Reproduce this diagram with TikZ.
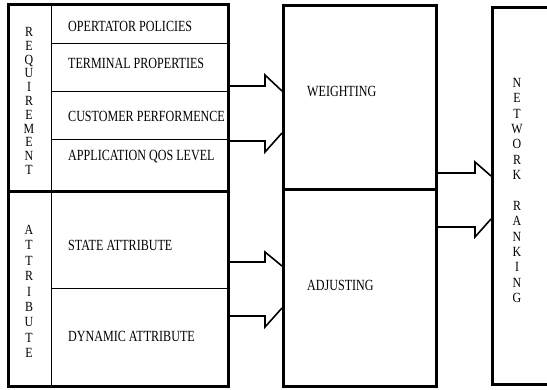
\documentclass[tikz,border=0pt]{standalone}
\usepackage{fontspec}
\setmainfont{Liberation Serif}
\newfontfamily\tnr[FakeStretch=0.78]{Liberation Serif}
\newfontfamily\tnrv[FakeStretch=0.85]{Liberation Serif}
\begin{document}
\begin{tikzpicture}[x=1pt,y=-1pt,
  outerbox/.style={draw, line width=2.8pt, inner sep=0pt, anchor=north west},
  cell/.style={draw, line width=0.8pt, inner sep=0pt, anchor=north west},
  lbl/.style={font=\tnr\fontsize{15.5}{17}\selectfont, anchor=base west, inner sep=0pt},
  vlbl/.style={font=\tnrv\fontsize{14}{#1}\selectfont, align=center, inner sep=0pt},
  conn/.style={line width=1.6pt, line join=miter}]
\useasboundingbox (0,0) rectangle (547,390);
\clip (0,0) rectangle (547,390);
\fill[white] (0,0) rectangle (547,390);
% left column cells
\node[cell, minimum width=44pt, minimum height=187pt] (reqcol) at (7,3) {};
\node[cell, minimum width=44pt, minimum height=195pt] (attcol) at (7,190) {};
\node[cell, minimum width=176pt, minimum height=40pt] (r1) at (51,3) {};
\node[cell, minimum width=176pt, minimum height=48pt] (r2) at (51,43) {};
\node[cell, minimum width=176pt, minimum height=48pt] (r3) at (51,91) {};
\node[cell, minimum width=176pt, minimum height=51pt] (r4) at (51,139) {};
\node[cell, minimum width=176pt, minimum height=98pt] (a1) at (51,190) {};
\node[cell, minimum width=176pt, minimum height=97pt] (a2) at (51,288) {};
% row texts
\node[lbl] (t1) at (68,31.9) {OPERTATOR POLICIES};
\node[lbl] (t2) at (68,68.4) {TERMINAL PROPERTIES};
\node[lbl] (t3) at (68,121.8) {CUSTOMER PERFORMENCE};
\node[lbl] (t4) at (68,160.1) {APPLICATION QOS LEVEL};
\node[lbl] (t5) at (68,250.1) {STATE ATTRIBUTE};
\node[lbl] (t6) at (68,341.8) {DYNAMIC ATTRIBUTE};
\node[lbl] (tw) at (307,96.1) {WEIGHTING};
\node[lbl] (ta) at (307,290.1) {ADJUSTING};
% outer boxes
\node[outerbox, minimum width=220pt, minimum height=187pt] (req) at (7,3) {};
\node[outerbox, minimum width=220pt, minimum height=195pt] (att) at (7,190) {};
\node[outerbox, minimum width=153pt, minimum height=184pt] (wt) at (282,4) {};
\node[outerbox, minimum width=153pt, minimum height=197pt] (adj) at (282,188) {};
\node[outerbox, minimum width=80pt, minimum height=377pt] (net) at (491,6) {};
% vertical texts
\node[vlbl=13.8] (vreq) at (29,101) {R\\E\\Q\\U\\I\\R\\E\\M\\E\\N\\T};
\node[vlbl=15.4] (vatt) at (29,291.5) {A\\T\\T\\R\\I\\B\\U\\T\\E};
\node[vlbl=15.36] (vnet) at (517,190.5) {N\\E\\T\\W\\O\\R\\K\\~\\R\\A\\N\\K\\I\\N\\G};
% connectors
\draw[conn] (req.east |- 0,86) -- (265,86) -- (265,75) -- (wt.west |- 0,91);
\draw[conn] (req.east |- 0,141) -- (265,141) -- (265,152) -- (wt.west |- 0,133);
\draw[conn] (att.east |- 0,262) -- (265,262) -- (265,252) -- (adj.west |- 0,266);
\draw[conn] (att.east |- 0,316) -- (265,316) -- (265,327) -- (adj.west |- 0,308);
\draw[conn] (wt.east |- 0,173) -- (475,173) -- (475,162) -- (net.west |- 0,176);
\draw[conn] (adj.east |- 0,227) -- (475,227) -- (475,237) -- (net.west |- 0,219);
\end{tikzpicture}
\end{document}
